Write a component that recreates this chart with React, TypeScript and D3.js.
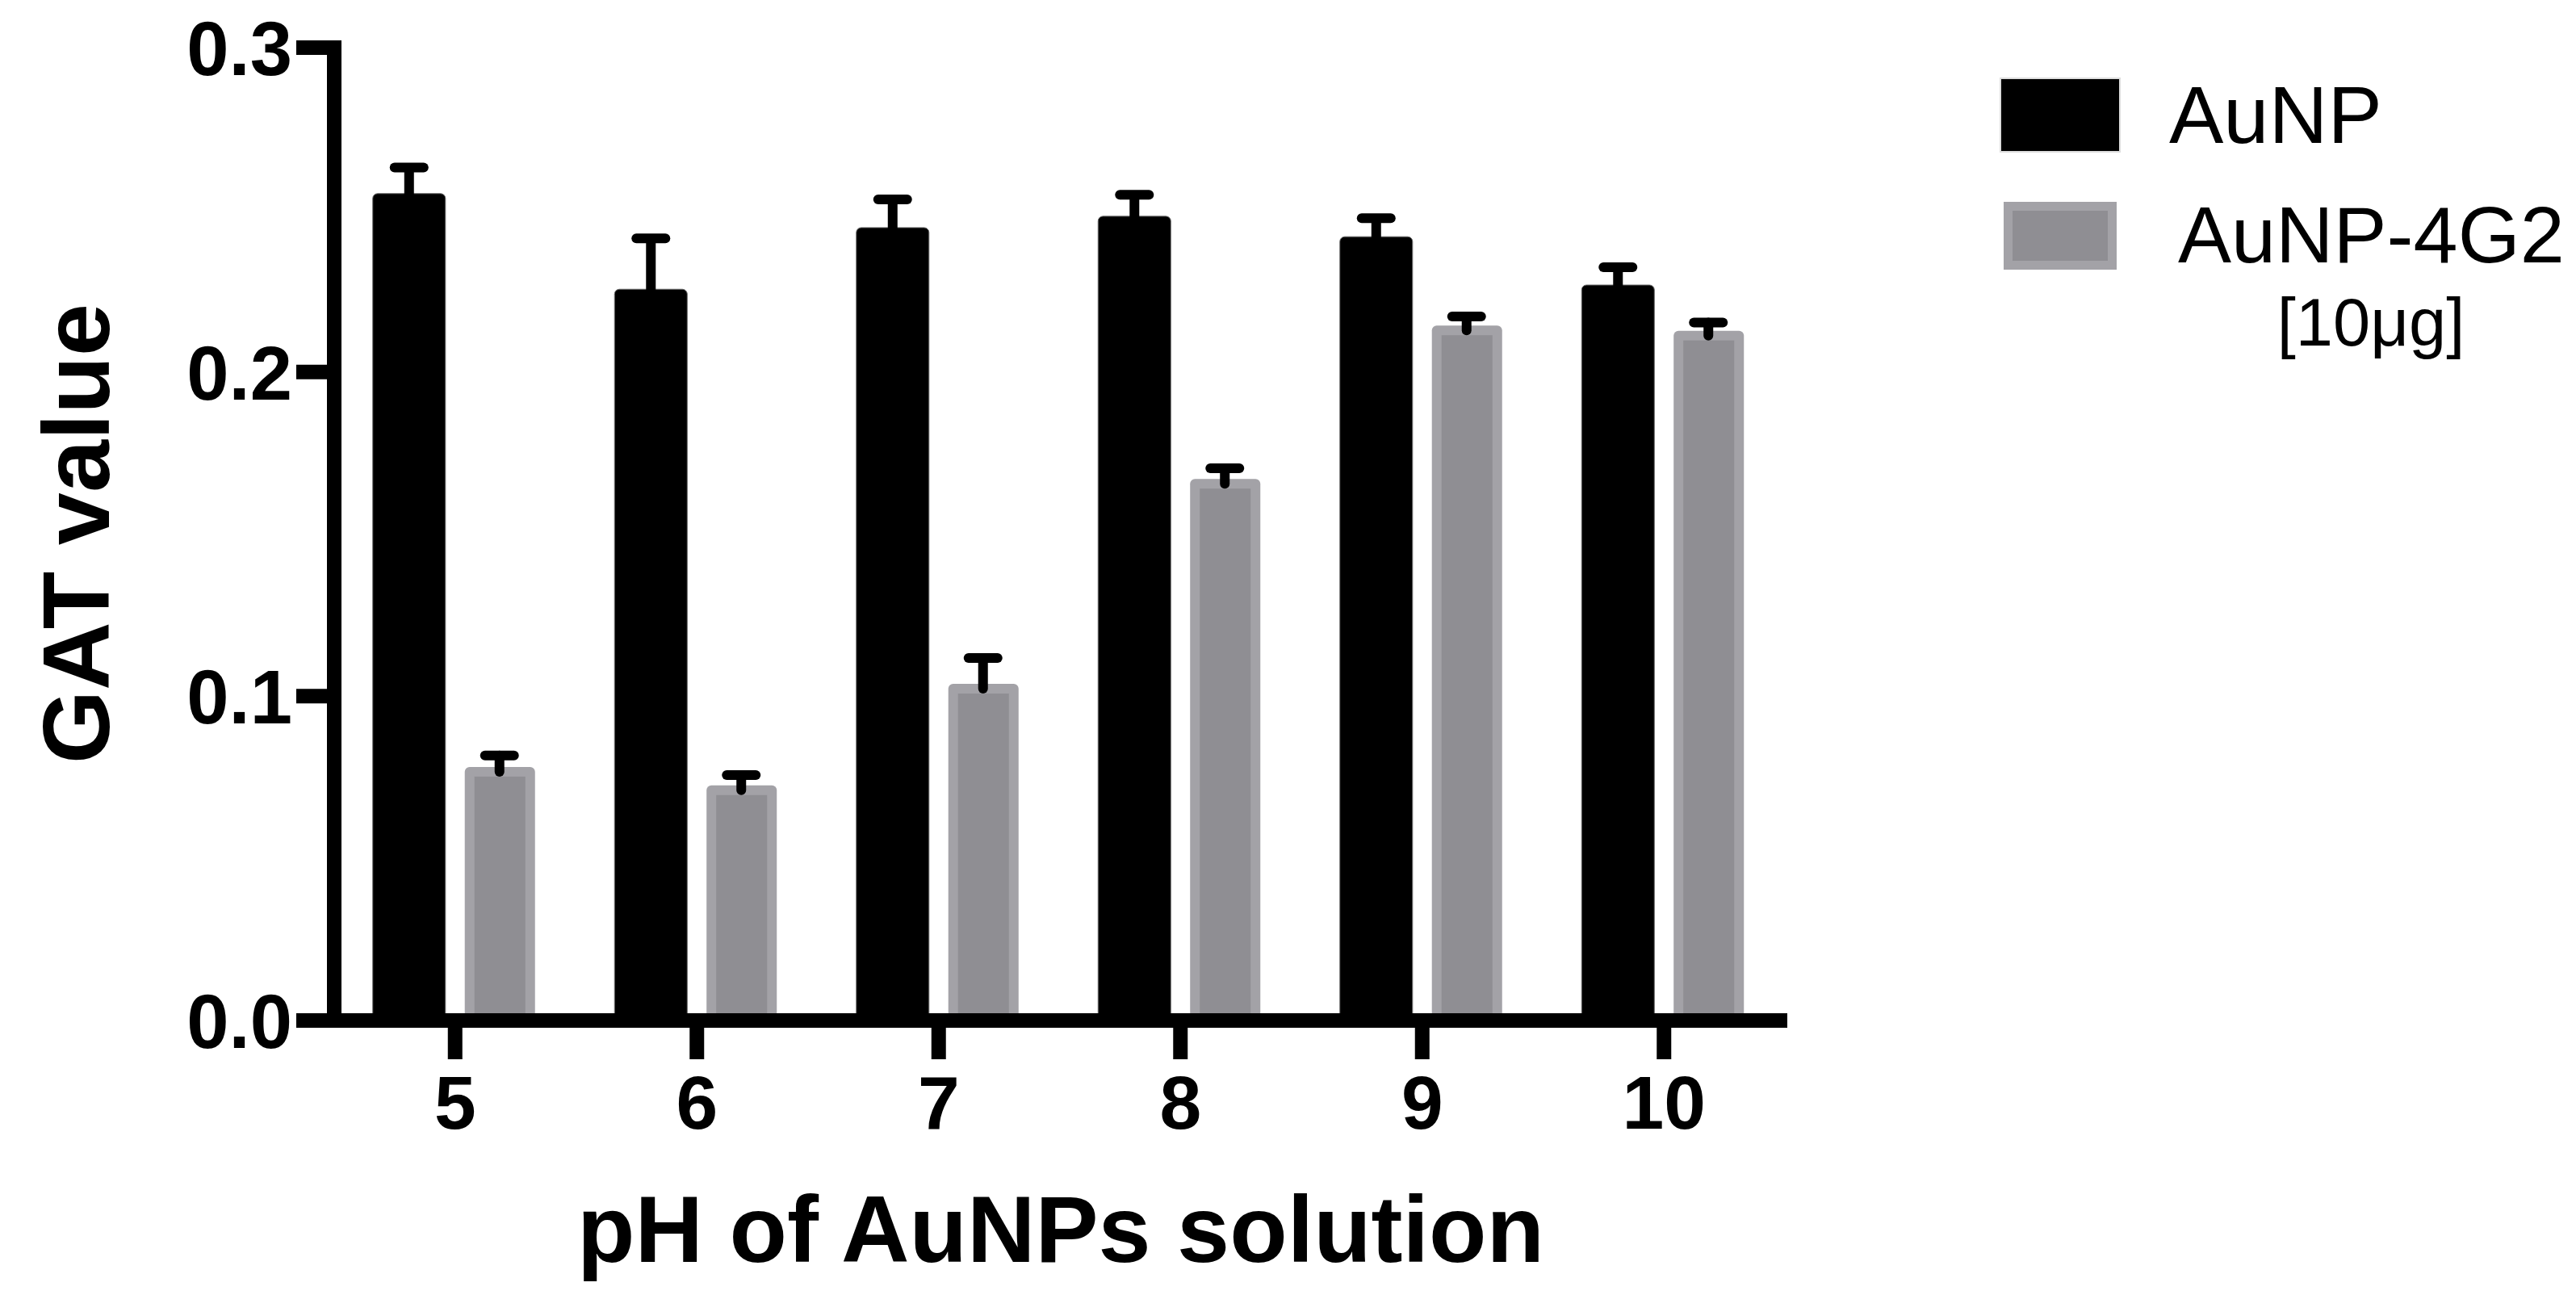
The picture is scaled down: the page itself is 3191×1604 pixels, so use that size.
import React from "react";
import * as d3 from "d3";

const categories = ["5", "6", "7", "8", "9", "10"];
const seriesNames = ["AuNP", "AuNP-4G2"];
const aunpMean = [0.255, 0.2255, 0.2445, 0.248, 0.2417, 0.2268];
const aunpErr = [0.008, 0.0157, 0.0087, 0.0066, 0.0057, 0.0055];
const g2Mean = [0.0782, 0.0725, 0.1038, 0.167, 0.2143, 0.2127];
const g2Err = [0.0035, 0.0032, 0.008, 0.0033, 0.0028, 0.0025];
const yTicks = [0, 0.1, 0.2, 0.3];

const W = 3191;
const H = 1604;
const FONT = "'Liberation Sans', Arial, Helvetica, sans-serif";

const x = d3.scaleBand<string>().domain(categories).range([414, 2211]).paddingInner(0).paddingOuter(0);
const xs = d3.scaleBand<string>().domain(seriesNames).range([-102, 102]).paddingInner(0.21);
const y = d3.scaleLinear().domain([0, 0.3]).range([1264, 59]);

function topRounded(x0: number, y0: number, w: number, yb: number, r: number) {
  const p = d3.path();
  p.moveTo(x0, yb);
  p.lineTo(x0, y0 + r);
  p.arcTo(x0, y0, x0 + r, y0, r);
  p.lineTo(x0 + w - r, y0);
  p.arcTo(x0 + w, y0, x0 + w, y0 + r, r);
  p.lineTo(x0 + w, yb);
  p.closePath();
  return p.toString();
}

export default function App() {
  const bw = xs.bandwidth();
  const base = y(0);
  const AX = 414;
  const AXR = 2214;
  const LW = 18;
  const BORDER = 12;

  const groups = categories.map((c, i) => {
    const cx = (x(c) as number) + x.bandwidth() / 2;
    const bx0 = cx + (xs("AuNP") as number);
    const gx0 = cx + (xs("AuNP-4G2") as number);
    const bTop = y(aunpMean[i]);
    const bCap = y(aunpMean[i] + aunpErr[i]);
    const gTop = y(g2Mean[i]);
    const gCap = y(g2Mean[i] + g2Err[i]);
    const bcx = bx0 + bw / 2;
    const gcx = gx0 + bw / 2 - 2;
    return (
      <g key={c}>
        {/* AuNP bar */}
        <path d={topRounded(bx0, bTop, bw, base, 6)} fill="#000" stroke="#6a6a6a" strokeWidth={1} />
        <line x1={bcx} x2={bcx} y1={bTop + 2} y2={bCap} stroke="#000" strokeWidth={12} />
        <line x1={bcx - 18} x2={bcx + 18} y1={bCap} y2={bCap} stroke="#000" strokeWidth={12} strokeLinecap="round" />
        {/* AuNP-4G2 bar */}
        <path d={topRounded(gx0, gTop, bw - 3, base, 6)} fill="#a3a2a7" />
        <rect x={gx0 + BORDER} y={gTop + BORDER} width={bw - 3 - 2 * BORDER} height={base - gTop - BORDER} fill="#8f8e93" />
        <line x1={gcx} x2={gcx} y1={gTop + 6} y2={gCap} stroke="#000" strokeWidth={12} strokeLinecap="round" />
        <line x1={gcx - 18} x2={gcx + 18} y1={gCap} y2={gCap} stroke="#000" strokeWidth={12} strokeLinecap="round" />
      </g>
    );
  });

  return (
    <svg width={W} height={H} style={{ position: "absolute", left: 0, top: 0, display: "block", background: "#fff" }} fontFamily={FONT}>
      <rect x={0} y={0} width={W} height={H} fill="#fff" />
      {groups}
      {/* Y axis */}
      <line x1={AX} x2={AX} y1={y(0.3) - LW / 2} y2={base + LW / 2} stroke="#000" strokeWidth={LW} />
      {yTicks.map((t) => (
        <g key={t}>
          <line x1={367} x2={AX} y1={y(t)} y2={y(t)} stroke="#000" strokeWidth={LW} />
          <text x={362} y={y(t)} dy="0.36em" textAnchor="end" fontSize={94} fontWeight="bold" fill="#000">
            {d3.format(".1f")(t)}
          </text>
        </g>
      ))}
      {/* X axis */}
      <line x1={AX - LW / 2} x2={AXR} y1={base} y2={base} stroke="#000" strokeWidth={LW} />
      {categories.map((c) => {
        const cx = (x(c) as number) + x.bandwidth() / 2;
        return (
          <g key={c}>
            <line x1={cx} x2={cx} y1={base} y2={1312} stroke="#000" strokeWidth={LW} />
            <text x={cx} y={1398} textAnchor="middle" fontSize={93} fontWeight="bold" fill="#000">
              {c}
            </text>
          </g>
        );
      })}
      {/* Axis titles */}
      <text x={1314} y={1563} textAnchor="middle" fontSize={117} fontWeight="bold" fill="#000">
        pH of AuNPs solution
      </text>
      <text transform="translate(135,661) rotate(-90)" textAnchor="middle" fontSize={117} fontWeight="bold" fill="#000">
        GAT value
      </text>
      {/* Legend */}
      <rect x={2478} y={97} width={148} height={91} fill="#000" stroke="#ddd" strokeWidth={2} />
      <text x={2687} y={177} fontSize={101} fill="#000">AuNP</text>
      <rect x={2482} y={250} width={140} height={84} fill="#a3a2a7" />
      <rect x={2493} y={261} width={118} height={62} fill="#8f8e93" />
      <text x={2698} y={325} fontSize={99} fill="#000">AuNP-4G2</text>
      <text x={2937} y={428} textAnchor="middle" fontSize={83} fill="#000">[10μg]</text>
    </svg>
  );
}
